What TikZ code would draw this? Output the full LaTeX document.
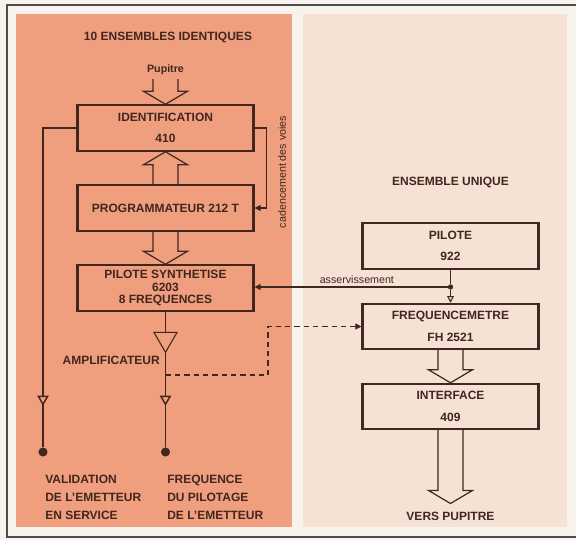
\documentclass[tikz,border=0pt]{standalone}
\usepackage{fontspec}
\setmainfont{Liberation Sans}
\usetikzlibrary{arrows.meta, calc, shapes.geometric}

\definecolor{salmon}{RGB}{239,158,126}
\definecolor{blush}{RGB}{245,226,212}
\definecolor{paper}{RGB}{247,242,236}
\definecolor{ink}{RGB}{66,38,32}

% hollow block arrow: start, tip, head offset
\newcommand{\fatarrow}[3]{%
  \draw[fat] ($(#1)+(-12.5,0)$) -- ($(#2)+(-12.5,#3)$) -- ($(#2)+(-22,#3)$) -- (#2)
    -- ($(#2)+(22,#3)$) -- ($(#2)+(12.5,#3)$) -- ($(#1)+(12.5,0)$);}

\begin{document}
\begin{tikzpicture}[
    x=0.75pt, y=-0.75pt,
    >=Stealth,
    blok/.style={
        draw=ink,
        line width=1.6pt,
        minimum width=132pt,
        minimum height=34pt,
        align=center,
        inner sep=0pt,
        text=ink,
        font=\bfseries\fontsize{9}{16}\selectfont
    },
    wire/.style={draw=ink, line width=0.8pt},
    fat/.style={draw=ink, line width=0.9pt, line join=miter},
    dashline/.style={wire, dash pattern=on 4pt off 3pt},
    enddot/.style={circle, fill=ink, minimum size=6.8pt, inner sep=0pt},
    joint/.style={circle, fill=ink, minimum size=4pt, inner sep=0pt},
    caption/.style={text=ink, inner sep=0pt, font=\bfseries\fontsize{9}{13.5}\selectfont},
    intip/.style={-{Triangle[length=4.5pt, width=4.5pt]}},
    flowmark/.style={regular polygon, regular polygon sides=3, shape border rotate=180,
        draw=ink, fill=salmon, line width=1.1pt, minimum size=8pt, inner sep=0pt}
]
\useasboundingbox (0,0) rectangle (576,540);

% panels
\fill[paper] (0,0) rectangle (576,540);
\fill[salmon] (16,14) rectangle (292,527);
\fill[blush] (303,14) rectangle (567,527);
\draw[black!70, line width=1.2pt] (576,5) -- (7,5) -- (7,537) -- (576,537);

% titles
\node[caption] (title1) at (168,37) {10 ENSEMBLES IDENTIQUES};
\node[caption] (title2) at (450.5,182) {ENSEMBLE UNIQUE};
\node[caption, inner sep=3pt, font=\bfseries\fontsize{8}{9}\selectfont] (pup) at (165.5,70) {Pupitre};

% blocks
\node[blok] (ident) at (165.5,128) {IDENTIFICATION\\410};
\node[blok] (prog) at (165.5,208) {PROGRAMMATEUR 212 T};
\node[blok, font=\bfseries\fontsize{9}{9.5}\selectfont] (pilsyn) at (165.5,288) {PILOTE SYNTHETISE\\6203\\8 FREQUENCES};
\node[blok] (pilote) at (450.5,246) {PILOTE\\922};
\node[blok] (freq) at (450.5,326.5) {FREQUENCEMETRE\\FH 2521};
\node[blok] (interf) at (450.5,406.5) {INTERFACE\\409};
\node[caption, inner sep=6pt] (vers) at (450.5,516) {VERS PUPITRE};

% outputs
\node[enddot] (valid) at (43,452) {};
\node[enddot] (pilotage) at (165.5,452) {};
\node[joint] (asdot) at (450.5,287) {};
\coordinate (tap) at (165.5,375);
\coordinate (dbend) at (268,326.5);

% block arrows
\fatarrow{pup.south}{ident.north}{-13}
\fatarrow{prog.north}{ident.south}{13}
\fatarrow{prog.south}{pilsyn.north}{-13}
\fatarrow{freq.south}{interf.north}{-13}
\fatarrow{interf.south}{vers.north}{-13}

% links
\draw[wire] (ident.west) -| (valid);
\draw[wire] (pilsyn.south) -- (pilotage);
\node[flowmark] (mark1) at (43,399) {};
\node[flowmark] (mark2) at (165.5,399) {};
\draw[wire, intip] (ident.east) -- ++(12,0) |- (prog.east);
\draw[wire] (pilote.south) -- (asdot);
\draw[wire, -{Triangle[open, length=5pt, width=5pt]}] (asdot) -- (freq.north);
\draw[wire, intip] (asdot) -- (asdot -| pilsyn.east)
    node[pos=0.47, above, text=ink, inner sep=2pt, font=\fontsize{8}{9}\selectfont] (asserv) {asservissement};
\draw[dashline, intip] (tap) -| (dbend) -- (freq.west);

% amplifier
\node[regular polygon, regular polygon sides=3, shape border rotate=180, draw=ink, fill=salmon,
    line width=0.8pt, minimum size=20pt, inner sep=0pt] (amp) at (165.5,339) {};
\node[caption, anchor=east] (ampl) at (160,360) {AMPLIFICATEUR};

\node[text=ink, rotate=90, inner sep=0pt, font=\fontsize{8}{9}\selectfont] (cad) at (282,172) {cadencement des voies};

% legends
\node[caption, anchor=north west, align=left] (validtxt) at (45,475) {VALIDATION\\DE L'EMETTEUR\\EN SERVICE};
\node[caption, anchor=north west, align=left] (freqtxt) at (167,475) {FREQUENCE\\DU PILOTAGE\\DE L'EMETTEUR};

\end{tikzpicture}
\end{document}
